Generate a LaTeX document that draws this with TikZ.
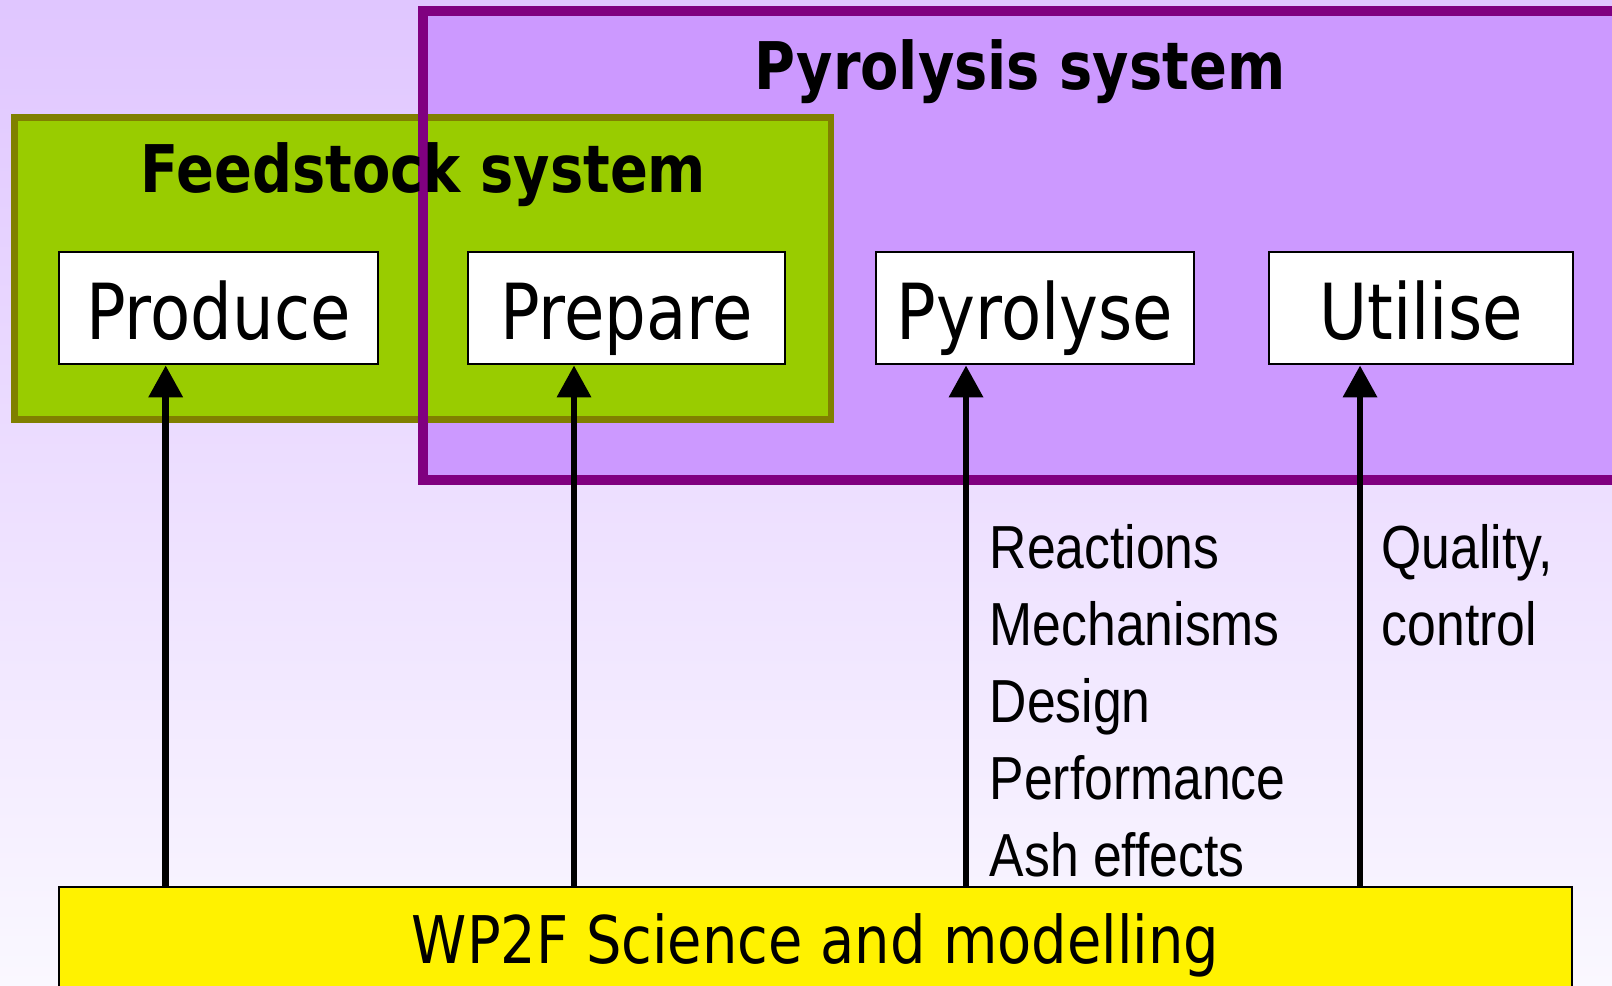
\documentclass[tikz,border=0pt]{standalone}
\usepackage{fontspec}
\usetikzlibrary{arrows.meta}
\newfontfamily\boxfont[FakeStretch=0.85]{DejaVu Sans}
\newfontfamily\notefont[FakeStretch=0.85]{Liberation Sans}
\definecolor{pyrofill}{RGB}{204,153,255}
\definecolor{pyroline}{RGB}{128,0,128}
\definecolor{feedfill}{RGB}{153,204,0}
\definecolor{feedline}{RGB}{128,128,0}
\definecolor{bgtop}{RGB}{224,198,255}
\definecolor{bgbot}{RGB}{250,248,255}
\begin{document}
\begin{tikzpicture}[
  stage/.style={draw=black, line width=0.8pt, fill=white, minimum height=1.12cm, inner sep=0pt,
    font=\boxfont\fontsize{22}{26}\selectfont, text height=17.7pt, text depth=0pt},
  sysbox/.style={inner sep=0pt, outer sep=0pt},
  systitle/.style={font=\boxfont\bfseries\fontsize{18.7}{22}\selectfont, anchor=base, inner sep=0pt},
  note/.style={font=\notefont\fontsize{17.3}{21.9}\selectfont, align=left, anchor=north west, inner sep=0pt},
  up/.style={line width=1.9pt, -{Triangle[length=0.32cm,width=0.33cm]}}
]
\clip (0,0) rectangle (16.12,-9.85);
\shade[top color=bgtop, bottom color=bgbot] (0,0) rectangle (16.12,-9.85);
\node[sysbox, fill=pyrofill, minimum width=12.77cm, minimum height=4.69cm] (pyro) at (10.615,-2.455) {};
\node[sysbox, draw=feedline, line width=1.85pt, fill=feedfill, minimum width=8.165cm, minimum height=3.02cm] (feed) at (4.2275,-2.685) {};
\draw[pyroline, line width=2.85pt] (pyro.north west) rectangle (pyro.south east);
\node[systitle] (feedtitle) at (4.235,-1.93) {Feedstock system};
\node[systitle] (pyrotitle) at (10.2,-0.90) {Pyrolysis system};
\node[stage, minimum width=3.19cm] (produce) at (2.185,-3.08) {Produce};
\node[stage, minimum width=3.17cm] (prepare) at (6.265,-3.08) {Prepare};
\node[stage, minimum width=3.18cm] (pyrolyse) at (10.35,-3.08) {Pyrolyse};
\node[stage, minimum width=3.04cm] (utilise) at (14.21,-3.08) {Utilise};
\node[stage, fill=yellow, minimum width=15.13cm, minimum height=1.3cm, font=\boxfont\fontsize{18.7}{22}\selectfont,
  text height=14.2pt, text depth=7.9pt] (science) at (8.155,-9.52) {WP2F Science and modelling};
\node[note] (pyronote) at (9.89,-5.235) {Reactions\\Mechanisms\\Design\\Performance\\Ash effects};
\node[note] (utilnote) at (13.81,-5.235) {Quality,\\control};
\coordinate (xa) at (1.657,0);
\coordinate (xb) at (5.74,0);
\coordinate (xc) at (9.66,0);
\coordinate (xd) at (13.6,0);
\draw[up] (science.north -| xa) -- (produce.south -| xa);
\draw[up] (science.north -| xb) -- (prepare.south -| xb);
\draw[up] (science.north -| xc) -- (pyrolyse.south -| xc);
\draw[up] (science.north -| xd) -- (utilise.south -| xd);
\end{tikzpicture}
\end{document}
